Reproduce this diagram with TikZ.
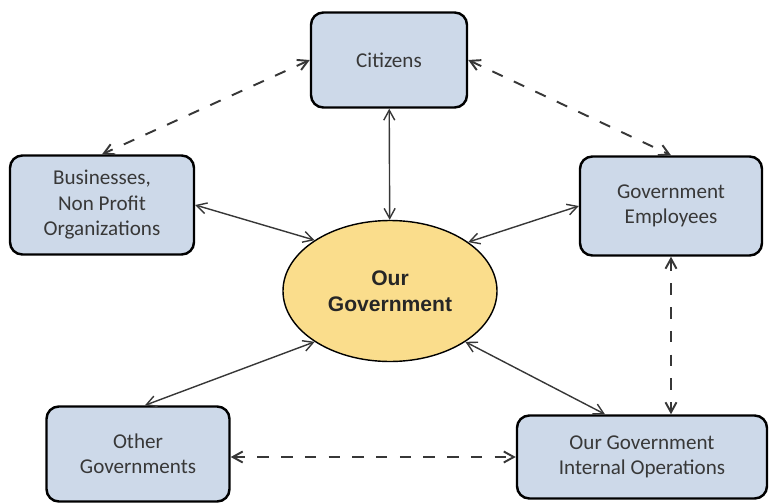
\documentclass[tikz,border=0pt]{standalone}
\usepackage{fontspec}
\setmainfont{Carlito}
\newfontfamily\arialfont{Liberation Sans}
\usetikzlibrary{arrows.meta,shapes.geometric,positioning}
\definecolor{boxblue}{RGB}{205,217,233}
\definecolor{govyellow}{RGB}{250,221,140}
\definecolor{linegray}{RGB}{55,55,55}
\begin{document}
\begin{tikzpicture}[thick,
        main/.style = {draw, rounded corners=7pt, line width=1.4pt, fill=boxblue, align=center,
            font=\fontsize{12}{14.5}\selectfont, text=black!78},
        gov/.style = {draw, ellipse, line width=0.8pt, fill=govyellow, align=center,
            minimum width=4.28cm, minimum height=2.82cm, font=\arialfont\bfseries\fontsize{12}{15}\selectfont, text=black!85},
        link/.style = {draw=linegray, line width=0.8pt, {Straight Barb[length=2mm,width=2.2mm]}-{Straight Barb[length=2mm,width=2.2mm]}},
        dlink/.style = {link, line width=1.1pt, dash pattern=on 6.5pt off 7pt}]
        \useasboundingbox (0,0) rectangle (15.38,10.06);
        \node[gov] (gov) at (7.8,4.24) {Our\\Government};
        \node[main, minimum width=3.12cm, minimum height=1.9cm] (cit) at (7.78,8.86) {Citizens};
        \node[main, minimum width=3.68cm, minimum height=1.98cm] (bus) at (2.04,5.96) {Businesses,\\Non Profit\\Organizations};
        \node[main, minimum width=3.64cm, minimum height=1.98cm] (emp) at (13.42,5.94) {Government\\Employees};
        \node[main, minimum width=3.66cm, minimum height=1.9cm] (oth) at (2.76,0.98) {Other\\Governments};
        \node[main, minimum width=5.0cm, minimum height=1.66cm] (int) at (12.84,0.92) {Our Government\\Internal Operations};
        % solid links to the centre
        \draw[link] (cit) -- (gov);
        \draw[link] (bus.east) -- (gov.146);
        \draw[link] (emp.west) -- (gov.32);
        \draw[link] ([xshift=0.14cm]oth.north) -- (gov.214);
        \draw[link] ([xshift=-0.74cm]int.north) -- (gov.326);
        % dashed links
        \draw[dlink] (cit.west) -- (bus.north);
        \draw[dlink] (cit.east) -- (emp.north);
        \draw[dlink] (emp.south) -- (emp.south |- int.north);
        \draw[dlink] (int.west -| oth.east) -- (int.west);
    \end{tikzpicture}
\end{document}
